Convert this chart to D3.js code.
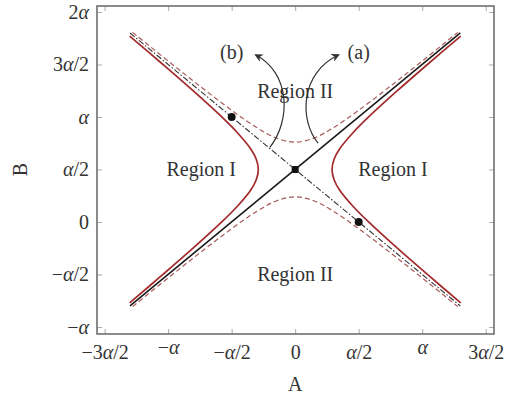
<!DOCTYPE html>
<html>
<head>
<meta charset="utf-8">
<script src="https://cdn.jsdelivr.net/npm/d3@7"></script>
<style>
  body { margin: 0; background: #fff; }
  text { font-family: "Liberation Serif", serif; fill: #333; }
</style>
</head>
<body>
<div id="chart"></div>
<script>
// values in units of alpha
const xTicks = [-1.5, -1, -0.5, 0, 0.5, 1, 1.5];
const xTickLabels = ["−3α/2", "−α", "−α/2", "0", "α/2", "α", "3α/2"];
const yTicks = [-1, -0.5, 0, 0.5, 1, 1.5, 2];
const yTickLabels = ["−α", "−α/2", "0", "α/2", "α", "3α/2", "2α"];

// Region I boundary (red solid), two branches
const regionIRight = [[1.303, 1.77], [1.041, 1.5], [0.804, 1.25], [0.578, 1.0], [0.455, 0.85], [0.352, 0.7],
  [0.307, 0.6], [0.29, 0.5], [0.307, 0.4], [0.352, 0.3], [0.455, 0.15], [0.578, 0.0], [0.804, -0.25],
  [1.041, -0.5], [1.303, -0.77]];
const regionILeft = [[-1.303, 1.77], [-1.041, 1.5], [-0.804, 1.25], [-0.578, 1.0], [-0.455, 0.85], [-0.352, 0.7],
  [-0.307, 0.6], [-0.29, 0.5], [-0.307, 0.4], [-0.352, 0.3], [-0.455, 0.15], [-0.578, 0.0], [-0.804, -0.25],
  [-1.041, -0.5], [-1.303, -0.77]];
// Region II boundary (red dashed)
const regionIIUpper = [[-1.28, 1.806], [-1.0, 1.533], [-0.75, 1.294], [-0.5, 1.064], [-0.3, 0.897], [-0.15, 0.80],
  [0, 0.76], [0.15, 0.80], [0.3, 0.897], [0.5, 1.064], [0.75, 1.294], [1.0, 1.533], [1.28, 1.806]];
const regionIILower = [[-1.28, -0.806], [-1.0, -0.533], [-0.75, -0.294], [-0.5, -0.064], [-0.3, 0.103], [-0.15, 0.20],
  [0, 0.24], [0.15, 0.20], [0.3, 0.103], [0.5, -0.064], [0.75, -0.294], [1.0, -0.533], [1.28, -0.806]];
// diagonals
const solidDiag = [[-1.3, -0.8], [1.3, 1.8]];
const dashDotDiag = [[-1.3, 1.8], [1.3, -0.8]];
const dots = [[-0.5, 1.0], [0.5, 0.0]];
const center = [0, 0.5];

// curved arrows (b) and (a)
const arrowB = [[-0.2, 0.71], [-0.03, 0.97], [-0.04, 1.42], [-0.31, 1.59]];
const arrowA = [[0.18, 0.75], [0.03, 0.97], [0.04, 1.42], [0.34, 1.59]];

const labels = [
  { text: "Region II", pos: [0, 1.25] },
  { text: "Region II", pos: [0, -0.5] },
  { text: "Region I", pos: [-0.74, 0.5] },
  { text: "Region I", pos: [0.77, 0.5] },
  { text: "(b)", pos: [-0.5, 1.62] },
  { text: "(a)", pos: [0.5, 1.62] }
];

const margin = { top: 6, right: 13, bottom: 63, left: 97 },
      width = 507 - margin.left - margin.right,
      height = 397 - margin.top - margin.bottom;

const svg = d3.select("#chart").append("svg")
    .attr("width", 507)
    .attr("height", 397)
  .append("g")
    .attr("transform", `translate(${margin.left},${margin.top})`);

const x = d3.scaleLinear().domain([-1.56, 1.565]).range([0, width]);
const y = d3.scaleLinear().domain([-1.067, 2.057]).range([height, 0]);

// write labels with an italic alpha
function fillLabel(sel, str) {
  sel.text(null);
  str.split(/(α)/).filter(s => s.length).forEach(part => {
    const t = sel.append("tspan").text(part);
    if (part === "α") t.attr("font-style", "italic");
  });
}

// axes: inner ticks on all four sides
const xAxis = svg.append("g")
    .attr("transform", `translate(0,${height})`)
    .call(d3.axisBottom(x).tickValues(xTicks).tickSize(-5).tickPadding(11)
      .tickFormat((d, i) => xTickLabels[i]));
xAxis.selectAll("text")
    .attr("font-size", 20)
    .attr("font-family", "Liberation Serif")
    .attr("fill", "#333")
    .each(function(d, i) {
      const s = xTickLabels[i];
      fillLabel(d3.select(this), s);
      if (!/\d/.test(s)) d3.select(this).attr("y", 6);
    });

const yAxis = svg.append("g")
    .call(d3.axisLeft(y).tickValues(yTicks).tickSize(-5).tickPadding(8)
      .tickFormat((d, i) => yTickLabels[i]));
yAxis.selectAll("text")
    .attr("font-size", 20)
    .attr("font-family", "Liberation Serif")
    .attr("fill", "#333")
    .each(function(d, i) { fillLabel(d3.select(this), yTickLabels[i]); });

svg.append("g")
    .call(d3.axisTop(x).tickValues(xTicks).tickSize(-5).tickFormat(""));
svg.append("g")
    .attr("transform", `translate(${width},0)`)
    .call(d3.axisRight(y).tickValues(yTicks).tickSize(-5).tickFormat(""));

svg.selectAll(".domain").remove();
svg.selectAll(".tick line").attr("stroke", "#aaa").attr("stroke-width", 1);

svg.append("rect")
    .attr("width", width)
    .attr("height", height)
    .attr("fill", "none")
    .attr("stroke", "#666")
    .attr("stroke-width", 1.5);

// axis titles
svg.append("text")
    .attr("x", x(0))
    .attr("y", height + 57)
    .attr("text-anchor", "middle")
    .attr("font-size", 20)
    .text("A");
svg.append("text")
    .attr("transform", `translate(${-margin.left + 27},${y(0.5)}) rotate(-90)`)
    .attr("text-anchor", "middle")
    .attr("font-size", 20)
    .text("B");

const line = d3.line().x(d => x(d[0])).y(d => y(d[1]));
const smooth = d3.line().x(d => x(d[0])).y(d => y(d[1])).curve(d3.curveCatmullRom);

// Region II boundary
[regionIIUpper, regionIILower].forEach(pts => {
  svg.append("path")
      .attr("d", smooth(pts))
      .attr("fill", "none")
      .attr("stroke", "#a85a5a")
      .attr("stroke-width", 1.2)
      .attr("stroke-dasharray", "5,3");
});

// diagonals
svg.append("path")
    .attr("d", line(dashDotDiag))
    .attr("fill", "none")
    .attr("stroke", "#333")
    .attr("stroke-width", 1.1)
    .attr("stroke-dasharray", "6,2,1.5,2");
svg.append("path")
    .attr("d", line(solidDiag))
    .attr("fill", "none")
    .attr("stroke", "#1a1a1a")
    .attr("stroke-width", 1.6);

// Region I boundary
[regionILeft, regionIRight].forEach(pts => {
  svg.append("path")
      .attr("d", smooth(pts))
      .attr("fill", "none")
      .attr("stroke", "#a32a2a")
      .attr("stroke-width", 1.7);
});

// points
svg.selectAll(".dot")
    .data(dots)
    .enter()
    .append("circle")
    .attr("class", "dot")
    .attr("cx", d => x(d[0]))
    .attr("cy", d => y(d[1]))
    .attr("r", 4)
    .attr("fill", "#111");
svg.append("rect")
    .attr("x", x(center[0]) - 3.5)
    .attr("y", y(center[1]) - 3.5)
    .attr("width", 7)
    .attr("height", 7)
    .attr("rx", 1.5)
    .attr("fill", "#111");

// arrows
svg.append("defs").append("marker")
    .attr("id", "head")
    .attr("viewBox", "0 0 10 10")
    .attr("refX", 8)
    .attr("refY", 5)
    .attr("markerWidth", 7)
    .attr("markerHeight", 7)
    .attr("orient", "auto")
  .append("path")
    .attr("d", "M0,0 L10,5 L0,10 L3,5 Z")
    .attr("fill", "#333");

[arrowB, arrowA].forEach(p => {
  const pp = p.map(d => [x(d[0]), y(d[1])]);
  svg.append("path")
      .attr("d", `M${pp[0]} C${pp[1]} ${pp[2]} ${pp[3]}`)
      .attr("fill", "none")
      .attr("stroke", "#333")
      .attr("stroke-width", 1.2)
      .attr("marker-end", "url(#head)");
});

// region labels
svg.selectAll(".region")
    .data(labels)
    .enter()
    .append("text")
    .attr("class", "region")
    .attr("x", d => x(d.pos[0]))
    .attr("y", d => y(d.pos[1]))
    .attr("dy", "0.35em")
    .attr("text-anchor", "middle")
    .attr("font-size", 20)
    .text(d => d.text);
</script>
</body>
</html>
